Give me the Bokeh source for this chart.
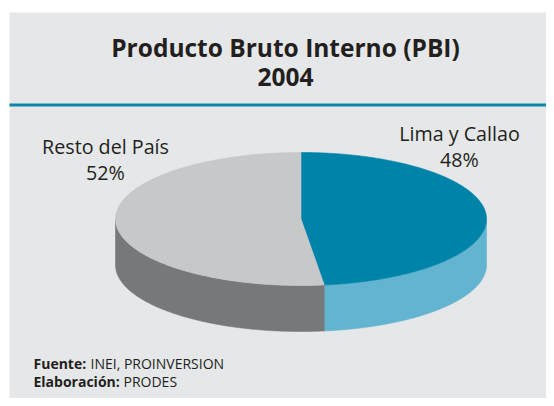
import numpy as np
from bokeh.plotting import figure
from bokeh.models import Range1d, ColumnDataSource
from bokeh.core.properties import value
from bokeh.embed import file_html
from bokeh.resources import INLINE

# ---- data ----
categories = ["Lima y Callao", "Resto del País"]
shares = [48, 52]
pct_labels = ["48%", "52%"]
top_colors = ["#0083a9", "#c7c8ca"]
side_colors = ["#62b4d0", "#77787b"]
title_lines = ["Producto Bruto Interno (PBI)", "2004"]
source_bold = ["Fuente:", "Elaboración:"]
source_text = ["INEI, PROINVERSION", "PRODES"]

W, H = 546, 398
p = figure(width=W, height=H, output_backend="svg", toolbar_location=None,
           x_range=Range1d(0, W), y_range=Range1d(H, 0), min_border=0)
p.axis.visible = False
p.grid.visible = False
p.outline_line_color = None
p.background_fill_color = "white"
p.border_fill_color = "white"

# panel
p.quad(left=9, right=W, top=12, bottom=H, fill_color="#e6e7e8", line_color=None)
p.segment(x0=9, x1=W, y0=104.5, y1=104.5, line_color="#0a86a8", line_width=3)

# title
p.text(x=[285, 285], y=[47, 76], text=title_lines, text_align="center",
       text_baseline="alphabetic", text_font=value("Open Sans"),
       text_font_style="bold", text_font_size="24.5px", text_color="#231f20")

# pie geometry (3D ellipse)
cx, cy, a, b, depth = 300.5, 218.5, 185.5, 66.5, 46
total = float(sum(shares))
bounds = np.concatenate([[0.0], np.cumsum(shares) / total]) * 2 * np.pi

def pt(t):
    return cx + a * np.sin(t), cy - b * np.cos(t)

side_xs, side_ys, side_c = [], [], []
top_xs, top_ys, top_c = [], [], []
for i in range(len(shares)):
    t0, t1 = bounds[i], bounds[i + 1]
    tt = np.linspace(t0, t1, 200)
    x, y = pt(tt)
    top_xs.append([cx] + list(x))
    top_ys.append([cy] + list(y))
    top_c.append(top_colors[i])
    s0, s1 = max(t0, np.pi / 2), min(t1, 3 * np.pi / 2)
    if s1 > s0:
        ss = np.linspace(s0, s1, 200)
        x, y = pt(ss)
        side_xs.append(list(x) + list(x[::-1]))
        side_ys.append(list(y) + list((y + depth)[::-1]))
        side_c.append(side_colors[i])

p.patches(xs="xs", ys="ys", fill_color="c", line_color="c", line_width=0.6,
          source=ColumnDataSource(dict(xs=side_xs, ys=side_ys, c=side_c)))
p.patches(xs="xs", ys="ys", fill_color="c", line_color="c", line_width=0.6,
          source=ColumnDataSource(dict(xs=top_xs, ys=top_ys, c=top_c)))

# slice labels
lab_x = [459, 105]
lab_y1 = [133, 146]
lab_y2 = [159, 172]
p.text(x=lab_x, y=lab_y1, text=categories, text_align="center",
       text_baseline="alphabetic", text_font=value("Open Sans"),
       text_font_size="19.7px", text_color="#231f20")
p.text(x=lab_x, y=lab_y2, text=pct_labels, text_align="center",
       text_baseline="alphabetic", text_font=value("Open Sans"),
       text_font_size="19.7px", text_color="#231f20")

# source notes
p.text(x=[33, 33], y=[363, 381], text=source_bold, text_align="left",
       text_baseline="alphabetic", text_font=value("Open Sans"),
       text_font_style="bold", text_font_size="14px", text_color="#231f20")
p.text(x=[90, 123], y=[363, 381], text=source_text, text_align="left",
       text_baseline="alphabetic", text_font=value("Open Sans"),
       text_font_size="14px", text_color="#231f20")

open("out.html", "w").write(file_html(p, INLINE))
